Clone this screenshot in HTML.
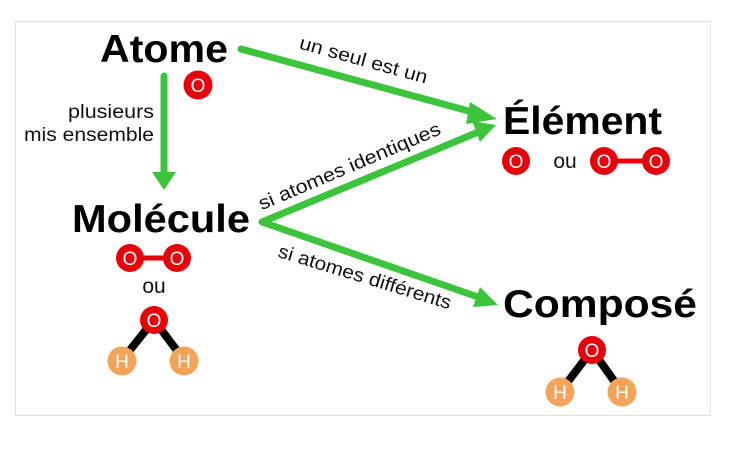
<!DOCTYPE html>
<html><head><meta charset="utf-8"><style>
html,body{margin:0;padding:0;background:#fff;}
svg{display:block;}
text{font-family:"Liberation Sans",Arial,sans-serif;}
</style></head><body>
<svg width="752" height="454" viewBox="0 0 752 454" xmlns="http://www.w3.org/2000/svg">
<rect x="15.5" y="21.5" width="695" height="394" fill="#fff" stroke="#e4e0da" stroke-width="1"/>
<g stroke="#3cc43c" stroke-width="7" stroke-linecap="round" fill="none">
<line x1="241" y1="49" x2="476" y2="113"/>
<line x1="164" y1="76" x2="164" y2="174"/>
<polyline points="476,133 262,222 478,297" stroke-linejoin="round"/>
</g>
<path d="M470,102 L497,119 L466,124 Z" fill="#3cc43c"/>
<path d="M152,172 L176,172 L164,190 Z" fill="#3cc43c"/>
<path d="M472,121 L496,125 L480,142 Z" fill="#3cc43c"/>
<path d="M480,287 L498,305 L473,307 Z" fill="#3cc43c"/>
<g font-weight="bold" fill="#000" font-size="39">
<text x="100" y="62" textLength="128" lengthAdjust="spacingAndGlyphs">Atome</text>
<text x="72" y="232" textLength="178" lengthAdjust="spacingAndGlyphs">Molécule</text>
<text x="503" y="134" textLength="159" lengthAdjust="spacingAndGlyphs">Élément</text>
<text x="503" y="317" textLength="194" lengthAdjust="spacingAndGlyphs">Composé</text>
</g>
<g font-size="19" fill="#111">
<text x="68" y="118" textLength="86" lengthAdjust="spacingAndGlyphs">plusieurs</text>
<text x="24" y="141" textLength="130" lengthAdjust="spacingAndGlyphs">mis ensemble</text>
<text transform="translate(362,66) rotate(15.5)" x="-66" textLength="132" lengthAdjust="spacingAndGlyphs">un seul est un</text>
<text transform="translate(352,172) rotate(-23)" x="-98" textLength="196" lengthAdjust="spacingAndGlyphs">si atomes identiques</text>
<text transform="translate(363,283) rotate(17)" x="-90" textLength="180" lengthAdjust="spacingAndGlyphs">si atomes différents</text>
<text x="154" y="293" text-anchor="middle" font-size="21">ou</text>
<text x="565" y="168" text-anchor="middle" font-size="21">ou</text>
</g>
<g stroke="#000" stroke-width="8">
<line x1="154" y1="320" x2="122" y2="360"/><line x1="154" y1="320" x2="184" y2="360"/>
<line x1="592" y1="350" x2="560" y2="392"/><line x1="592" y1="350" x2="622" y2="392"/>
</g>
<g stroke="#e8000a" stroke-width="5">
<line x1="130" y1="258" x2="177" y2="258"/>
<line x1="604" y1="161" x2="656" y2="161"/>
</g>
<g fill="#e8000a">
<circle cx="198" cy="85" r="14.5"/>
<circle cx="130" cy="258" r="14"/><circle cx="177" cy="258" r="14"/>
<circle cx="154" cy="320" r="14"/>
<circle cx="516" cy="161" r="14"/>
<circle cx="604" cy="161" r="14"/><circle cx="656" cy="161" r="14"/>
<circle cx="592" cy="350" r="14"/>
</g>
<g fill="#f4a45a">
<circle cx="122" cy="361" r="14.5"/><circle cx="184" cy="361" r="14.5"/>
<circle cx="560" cy="392" r="14.5"/><circle cx="622" cy="392" r="14.5"/>
</g>
<g fill="#fff" font-size="19" text-anchor="middle">
<text x="198" y="92">O</text>
<text x="130" y="265">O</text><text x="177" y="265">O</text>
<text x="154" y="327">O</text>
<text x="516" y="168">O</text>
<text x="604" y="168">O</text><text x="656" y="168">O</text>
<text x="592" y="357">O</text>
<text x="122" y="368">H</text><text x="184" y="368">H</text>
<text x="560" y="399">H</text><text x="622" y="399">H</text>
</g>
</svg>
</body></html>
